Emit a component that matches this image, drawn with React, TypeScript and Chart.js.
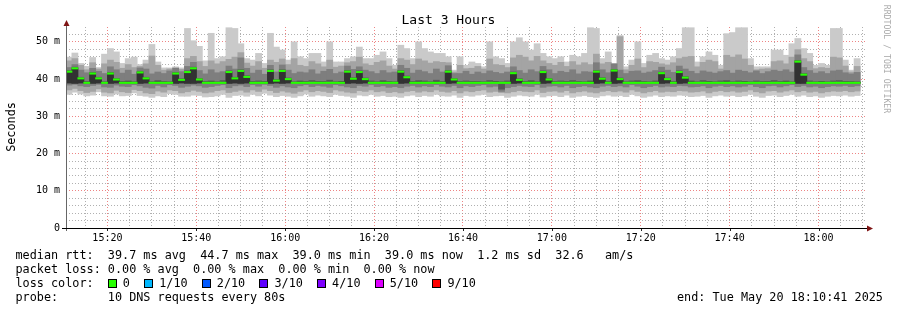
import React, { useEffect, useRef } from "react";
import { Chart, registerables } from "chart.js";

Chart.register(...registerables);

const MONO = "'DejaVu Sans Mono', monospace";

// graph window
const START_CLOCK = [15, 10, 41]; // hh, mm, ss
const WINDOW_MINUTES = 180;
const STEP_SECONDS = 80;
const Y_MAX = 54;

const xTickLabels = ["15:20", "15:40", "16:00", "16:20", "16:40", "17:00", "17:20", "17:40", "18:00"];
const yTickLabels = ["0", "10 m", "20 m", "30 m", "40 m", "50 m"];

// median RTT per 80 s step (ms)
const median = [
  42.0, 42.9, 40.2, 39.0, 41.5, 40.2, 39.0, 41.5, 39.9, 39.0,
  39.0, 39.0, 41.8, 40.2, 39.0, 39.0, 39.0, 39.0, 41.5, 39.8,
  41.9, 42.9, 39.9, 39.0, 39.0, 39.0, 39.0, 41.9, 40.2, 42.2,
  40.6, 39.0, 39.0, 39.0, 42.2, 39.6, 42.2, 40.0, 39.0, 39.0,
  39.0, 39.0, 39.0, 39.0, 39.0, 39.0, 39.0, 42.0, 40.1, 41.9,
  40.0, 39.0, 39.0, 39.0, 39.0, 39.0, 42.0, 40.5, 39.0, 39.0,
  39.0, 39.0, 39.0, 39.0, 42.0, 39.9, 39.0, 39.0, 39.0, 39.0,
  39.0, 39.0, 39.0, 39.0, 39.0, 41.6, 39.8, 39.0, 39.0, 39.0,
  41.9, 39.9, 39.0, 39.0, 39.0, 39.0, 39.0, 39.0, 39.0, 42.0,
  40.1, 39.0, 42.3, 40.0, 39.0, 39.0, 39.0, 39.0, 39.0, 39.0,
  41.6, 40.0, 39.0, 41.9, 40.4, 39.0, 39.0, 39.0, 39.0, 39.0,
  39.0, 39.0, 39.0, 39.0, 39.0, 39.0, 39.0, 39.0, 39.0, 39.0,
  39.0, 39.0, 39.0, 44.7, 41.2, 39.0, 39.0, 39.0, 39.0, 39.0,
  39.0, 39.0, 39.0, 39.0,
];

// sorted RTTs of the 10 probes per step (rtt1 = fastest ... rtt10 = slowest), ms
const rtt1 = [
  35.8, 36.4, 35.9, 35.4, 35.6, 36.5, 35.4, 35.3, 35.9, 35.4,
  35.5, 36.2, 35.5, 35.3, 35.0, 35.4, 35.2, 36.0, 35.8, 35.3,
  35.3, 35.6, 35.5, 35.1, 35.2, 35.4, 35.8, 35.0, 35.5, 35.6,
  35.3, 35.8, 35.4, 36.1, 35.6, 35.2, 35.5, 35.3, 35.0, 35.4,
  35.9, 35.3, 35.6, 35.4, 35.2, 35.8, 35.5, 35.3, 35.0, 35.6,
  35.4, 35.8, 35.3, 35.5, 35.2, 35.3, 35.0, 35.4, 35.6, 35.2,
  35.5, 35.3, 35.8, 35.4, 35.3, 35.6, 35.0, 35.5, 35.3, 35.6,
  35.8, 35.2, 35.4, 35.5, 35.0, 35.3, 35.6, 35.4, 35.3, 35.8,
  35.1, 35.4, 35.5, 35.2, 35.6, 35.0, 35.3, 35.5, 35.2, 35.0,
  35.4, 35.6, 35.3, 35.5, 35.2, 35.8, 35.4, 35.0, 35.3, 35.6,
  35.2, 35.4, 35.3, 35.6, 35.5, 35.2, 35.3, 35.5, 35.0, 35.4,
  35.6, 35.3, 35.5, 35.2, 35.4, 35.8, 35.3, 35.0, 35.5, 35.6,
  35.2, 35.5, 35.8, 35.3, 35.6, 35.2, 35.4, 35.0, 35.3, 35.5,
  35.4, 35.6, 35.3, 35.5,
];
const rtt2 = [
  37.0, 37.4, 36.8, 36.3, 36.6, 37.3, 36.4, 36.2, 36.9, 36.5,
  36.3, 37.1, 36.8, 36.2, 36.0, 36.7, 36.4, 37.0, 36.8, 36.2,
  36.5, 36.9, 36.6, 36.2, 36.4, 36.8, 37.0, 36.3, 36.6, 36.9,
  36.4, 37.0, 36.6, 37.2, 36.8, 36.3, 36.7, 36.4, 36.1, 36.6,
  37.0, 36.5, 36.8, 36.6, 36.3, 37.0, 36.7, 36.4, 36.2, 36.8,
  36.6, 37.0, 36.5, 36.7, 36.3, 36.5, 36.2, 36.6, 36.8, 36.4,
  36.7, 36.5, 37.0, 36.6, 36.4, 36.8, 36.2, 36.7, 36.5, 36.8,
  37.0, 36.4, 36.6, 36.3, 36.2, 36.5, 36.8, 36.6, 36.5, 37.0,
  36.3, 36.6, 36.7, 36.4, 36.8, 36.2, 36.5, 36.7, 36.4, 36.2,
  36.6, 36.8, 36.5, 36.7, 36.4, 37.0, 36.6, 36.2, 36.5, 36.8,
  36.4, 36.6, 36.5, 36.8, 36.7, 36.4, 36.5, 36.7, 36.2, 36.6,
  36.8, 36.5, 36.7, 36.4, 36.6, 37.0, 36.5, 36.2, 36.7, 36.8,
  36.4, 36.7, 37.0, 36.5, 36.8, 36.4, 36.6, 36.2, 36.5, 36.7,
  36.6, 36.8, 36.5, 36.7,
];
const rtt3 = [
  38.3, 38.5, 38.1, 37.9, 38.2, 38.5, 37.8, 37.7, 38.3, 38.0,
  37.9, 38.4, 38.1, 37.7, 37.5, 38.2, 37.8, 38.4, 38.2, 37.7,
  38.0, 38.3, 38.1, 37.7, 37.9, 38.2, 38.4, 37.6, 38.1, 38.3,
  37.9, 38.4, 38.0, 38.5, 38.2, 37.7, 38.1, 37.8, 37.6, 38.1,
  38.4, 37.9, 38.2, 38.0, 37.7, 38.4, 38.1, 37.8, 37.6, 38.2,
  38.0, 38.4, 37.9, 38.1, 37.7, 37.9, 37.6, 38.0, 38.2, 37.8,
  38.1, 37.9, 38.4, 38.0, 37.8, 38.2, 37.6, 38.1, 37.9, 38.2,
  38.4, 37.8, 38.0, 36.6, 37.6, 37.9, 38.2, 38.0, 37.9, 38.4,
  37.7, 38.0, 38.1, 37.8, 38.2, 37.6, 37.9, 38.1, 37.8, 37.6,
  38.0, 38.2, 37.9, 38.1, 37.8, 38.4, 38.0, 37.6, 37.9, 38.2,
  37.8, 38.0, 37.9, 38.2, 38.1, 37.8, 37.9, 38.1, 37.6, 38.0,
  38.2, 37.9, 38.1, 37.8, 38.0, 38.4, 37.9, 37.6, 38.1, 38.2,
  37.8, 38.1, 38.4, 37.9, 38.2, 37.8, 38.0, 37.6, 37.9, 38.1,
  38.0, 38.2, 37.9, 38.1,
];
const rtt4 = [
  38.8, 38.7, 38.8, 38.8, 38.7, 38.8, 38.9, 38.7, 38.8, 38.8,
  38.8, 38.9, 38.7, 38.8, 38.8, 38.8, 38.9, 38.8, 38.7, 38.8,
  38.7, 38.7, 38.8, 38.9, 38.8, 38.8, 38.9, 38.7, 38.8, 38.7,
  38.8, 38.9, 38.8, 38.8, 38.7, 38.8, 38.7, 38.8, 38.9, 38.8,
  38.8, 38.9, 38.8, 38.8, 38.7, 38.8, 38.8, 38.7, 38.8, 38.7,
  38.8, 38.9, 38.8, 38.8, 38.8, 38.9, 38.7, 38.8, 38.8, 38.8,
  38.9, 38.8, 38.8, 38.8, 38.7, 38.8, 38.8, 38.9, 38.8, 38.8,
  38.8, 38.8, 38.9, 37.2, 38.8, 38.7, 38.8, 38.8, 38.9, 38.8,
  38.7, 38.8, 38.8, 38.8, 38.9, 38.8, 38.8, 38.8, 38.9, 38.7,
  38.8, 38.8, 38.7, 38.8, 38.8, 38.9, 38.8, 38.8, 38.8, 38.9,
  38.7, 38.8, 38.8, 38.7, 38.8, 38.8, 38.9, 38.8, 38.8, 38.8,
  38.8, 38.9, 38.8, 38.8, 38.8, 38.8, 38.9, 38.8, 38.8, 38.8,
  38.8, 38.9, 38.8, 38.7, 38.7, 38.8, 38.8, 38.9, 38.8, 38.8,
  38.8, 38.9, 38.8, 38.8,
];
const rtt5 = [
  38.9, 38.8, 38.9, 38.9, 38.8, 38.9, 38.9, 38.8, 38.9, 38.9,
  38.9, 38.9, 38.8, 38.9, 38.9, 38.9, 38.9, 38.9, 38.8, 38.9,
  38.8, 38.8, 38.9, 38.9, 38.9, 38.9, 38.9, 38.8, 38.9, 38.8,
  38.9, 38.9, 38.9, 38.9, 38.8, 38.9, 38.8, 38.9, 38.9, 38.9,
  38.9, 38.9, 38.9, 38.9, 38.9, 38.9, 38.9, 38.8, 38.9, 38.8,
  38.9, 38.9, 38.9, 38.9, 38.9, 38.9, 38.8, 38.9, 38.9, 38.9,
  38.9, 38.9, 38.9, 38.9, 38.8, 38.9, 38.9, 38.9, 38.9, 38.9,
  38.9, 38.9, 38.9, 38.9, 38.9, 38.8, 38.9, 38.9, 38.9, 38.9,
  38.8, 38.9, 38.9, 38.9, 38.9, 38.9, 38.9, 38.9, 38.9, 38.8,
  38.9, 38.9, 38.8, 38.9, 38.9, 38.9, 38.9, 38.9, 38.9, 38.9,
  38.8, 38.9, 38.9, 38.8, 38.9, 38.9, 38.9, 38.9, 38.9, 38.9,
  38.9, 38.9, 38.9, 38.9, 38.9, 38.9, 38.9, 38.9, 38.9, 38.9,
  38.9, 38.9, 38.9, 38.8, 38.8, 38.9, 38.9, 38.9, 38.9, 38.9,
  38.9, 38.9, 38.9, 38.9,
];
const rtt6 = [
  42.0, 42.9, 40.2, 39.2, 41.5, 40.2, 39.1, 41.5, 39.9, 39.2,
  39.3, 39.1, 41.8, 40.2, 39.2, 39.3, 39.1, 39.2, 41.5, 39.8,
  41.9, 42.9, 39.9, 39.2, 39.3, 39.1, 39.2, 41.9, 40.2, 42.2,
  40.6, 39.2, 39.1, 39.3, 42.2, 39.6, 42.2, 40.0, 39.2, 39.3,
  39.1, 39.2, 39.3, 39.2, 39.1, 39.2, 39.3, 42.0, 40.1, 41.9,
  40.0, 39.2, 39.1, 39.3, 39.2, 39.1, 42.0, 40.5, 39.2, 39.3,
  39.2, 39.1, 39.3, 39.2, 42.0, 39.9, 39.2, 39.1, 39.3, 39.2,
  39.1, 39.2, 39.3, 39.2, 39.1, 41.6, 39.8, 39.2, 39.3, 39.1,
  41.9, 39.9, 39.2, 39.1, 39.3, 39.2, 39.1, 39.2, 39.3, 42.0,
  40.1, 39.2, 42.3, 40.0, 39.2, 39.1, 39.3, 39.2, 39.1, 39.2,
  41.6, 40.0, 39.2, 41.9, 40.4, 39.3, 39.1, 39.2, 39.3, 39.1,
  39.2, 39.3, 39.1, 39.2, 39.3, 39.2, 39.1, 39.2, 39.3, 39.1,
  39.2, 39.3, 39.1, 44.7, 41.2, 39.2, 39.1, 39.3, 39.2, 39.1,
  39.2, 39.3, 39.1, 39.2,
];
const rtt7 = [
  42.4, 43.3, 40.6, 39.5, 41.9, 40.6, 39.4, 41.9, 40.3, 39.5,
  39.6, 39.4, 42.2, 40.6, 39.4, 39.7, 39.5, 39.4, 41.9, 40.2,
  42.3, 43.3, 40.3, 39.5, 39.6, 39.4, 39.7, 42.3, 40.6, 42.6,
  41.0, 39.5, 39.6, 39.4, 42.6, 40.0, 42.6, 40.4, 39.4, 39.6,
  39.5, 39.7, 39.4, 39.5, 39.8, 39.4, 39.5, 42.4, 40.5, 42.3,
  40.4, 39.6, 39.4, 39.7, 39.5, 39.4, 42.4, 40.9, 39.5, 39.7,
  39.6, 39.4, 39.8, 39.5, 42.4, 40.3, 39.5, 39.6, 39.4, 39.5,
  39.4, 39.7, 39.5, 39.4, 39.6, 42.0, 40.2, 39.5, 39.7, 39.4,
  42.3, 40.3, 39.5, 39.6, 39.4, 39.7, 39.5, 39.4, 39.6, 42.4,
  40.5, 39.5, 42.7, 40.4, 39.4, 39.6, 39.7, 39.5, 39.4, 39.6,
  42.0, 40.4, 39.5, 42.3, 40.8, 39.6, 39.4, 39.7, 39.5, 39.4,
  39.6, 39.7, 39.4, 39.6, 39.5, 39.4, 39.6, 39.5, 39.4, 39.7,
  39.5, 39.6, 39.4, 45.1, 41.6, 39.6, 39.4, 39.5, 39.4, 39.6,
  39.7, 39.4, 39.5, 39.4,
];
const rtt8 = [
  43.2, 44.0, 42.5, 41.8, 43.0, 42.2, 41.6, 43.4, 42.6, 41.7,
  42.5, 41.4, 43.1, 42.8, 41.5, 42.0, 41.6, 42.3, 43.0, 42.1,
  43.5, 44.6, 42.4, 41.5, 42.6, 41.8, 42.1, 43.6, 42.8, 45.8,
  43.0, 41.7, 42.5, 41.4, 43.8, 42.0, 43.9, 42.5, 41.6, 42.0,
  41.8, 42.6, 41.5, 42.2, 42.7, 41.6, 42.0, 43.6, 42.7, 43.4,
  42.5, 42.1, 41.6, 42.4, 41.8, 42.0, 43.8, 43.0, 41.7, 42.5,
  42.1, 41.6, 42.8, 42.0, 43.7, 41.6, 41.6, 42.2, 41.4, 42.0,
  41.6, 42.3, 41.9, 41.6, 42.0, 43.4, 42.4, 41.7, 42.6, 42.1,
  43.5, 42.6, 41.6, 42.2, 41.9, 42.6, 41.5, 42.1, 42.0, 44.5,
  42.6, 41.8, 44.2, 42.5, 41.6, 42.2, 42.3, 41.7, 42.0, 42.4,
  43.3, 42.5, 41.9, 43.6, 42.8, 42.2, 41.6, 42.3, 42.0, 41.7,
  42.1, 42.4, 41.7, 42.5, 42.2, 41.8, 42.3, 41.6, 42.1, 42.5,
  42.2, 42.6, 42.0, 46.6, 43.2, 42.4, 41.7, 42.1, 41.6, 42.3,
  42.5, 41.8, 41.5, 41.9,
];
const rtt9 = [
  45.0, 45.6, 43.8, 42.6, 44.5, 42.8, 44.2, 45.2, 44.6, 43.0,
  44.0, 43.2, 43.5, 44.2, 46.3, 43.8, 42.5, 42.8, 43.1, 42.7,
  45.6, 46.2, 44.8, 43.5, 45.0, 44.2, 44.8, 45.4, 46.0, 47.2,
  44.4, 43.6, 44.8, 43.0, 45.2, 44.6, 45.5, 44.0, 45.6, 43.8,
  43.5, 44.8, 44.2, 43.4, 45.2, 43.3, 43.6, 44.5, 44.8, 46.0,
  44.2, 43.8, 44.6, 45.0, 43.6, 42.8, 45.6, 45.2, 44.0, 45.5,
  45.0, 44.4, 44.8, 44.6, 44.5, 42.0, 43.8, 42.9, 43.0, 43.5,
  42.8, 45.5, 44.0, 43.8, 43.2, 45.8, 46.5, 46.0, 45.0, 46.2,
  45.0, 44.3, 43.8, 44.6, 43.5, 44.8, 43.9, 44.5, 44.0, 46.8,
  44.2, 44.6, 43.6, 51.5, 42.6, 43.8, 45.5, 43.2, 44.8, 44.6,
  44.2, 43.9, 44.5, 45.6, 46.0, 46.2, 43.4, 44.6, 45.2, 44.8,
  42.8, 46.5, 46.0, 46.6, 45.5, 43.8, 42.6, 42.8, 42.9, 44.8,
  45.0, 44.2, 46.0, 48.0, 45.6, 44.8, 42.9, 43.2, 43.0, 46.0,
  45.8, 43.6, 42.0, 43.5,
];
const rtt10 = [
  46.0, 47.1, 44.3, 43.5, 45.9, 43.2, 46.8, 48.3, 47.4, 44.3,
  45.6, 46.0, 44.0, 45.2, 49.4, 44.7, 43.1, 43.1, 43.4, 43.1,
  53.7, 50.4, 48.9, 45.0, 52.4, 45.6, 46.1, 53.9, 53.7, 49.6,
  45.6, 45.2, 47.0, 44.3, 52.4, 48.7, 47.9, 45.2, 50.1, 46.1,
  45.6, 47.0, 47.0, 44.7, 50.1, 44.7, 44.7, 45.6, 46.1, 48.7,
  45.6, 45.6, 46.5, 47.4, 45.6, 43.8, 49.2, 48.3, 45.6, 50.1,
  48.3, 47.4, 47.0, 47.0, 46.1, 42.5, 46.1, 43.8, 44.7, 44.3,
  43.4, 50.1, 46.1, 45.6, 44.3, 50.1, 51.2, 50.1, 47.9, 49.6,
  47.0, 46.1, 45.6, 46.1, 44.7, 46.5, 46.1, 47.0, 53.9, 53.7,
  45.6, 47.4, 44.3, 51.8, 43.4, 45.2, 50.1, 44.3, 46.5, 47.0,
  45.6, 45.2, 46.1, 48.3, 53.9, 53.9, 44.7, 46.1, 47.4, 46.5,
  43.8, 52.3, 52.6, 53.9, 53.9, 45.6, 43.4, 43.4, 43.4, 47.9,
  47.9, 46.5, 49.6, 51.0, 48.3, 47.0, 43.8, 44.3, 43.8, 53.7,
  53.7, 45.2, 42.5, 45.6,
];

const lossLabels = ["0", "1/10", "2/10", "3/10", "4/10", "5/10", "9/10"];
const lossColors = ["#26ff00", "#00b8ff", "#0059ff", "#5e00ff", "#7e00ff", "#dd00ff", "#ff0000"];

const statsLine = "median rtt:  39.7 ms avg  44.7 ms max  39.0 ms min  39.0 ms now  1.2 ms sd  32.6   am/s";
const lossLine = "packet loss: 0.00 % avg  0.00 % max  0.00 % min  0.00 % now";
const probeLine = "probe:       10 DNS requests every 80s";
const endLine = "end: Tue May 20 18:10:41 2025";

// styles
const SMOKE_COLORS = ["#cacaca", "#a4a4a4", "#7e7e7e", "#585858", "#323232"];
const MEDIAN_HALF = 0.28;
const MINOR_GRID = "rgba(150,150,150,0.75)";
const MAJOR_GRID = "rgba(235,110,110,0.85)";

const startSec = START_CLOCK[0] * 3600 + START_CLOCK[1] * 60 + START_CLOCK[2];
const stepMinutes = STEP_SECONDS / 60;

function clockLabel(v: number) {
  const t = Math.round(startSec + v * 60);
  const h = Math.floor(t / 3600) % 24;
  const m = Math.floor(t / 60) % 60;
  return { m, text: `${h}:${String(m).padStart(2, "0")}` };
}
const gridMinutes: number[] = [];
for (let t = Math.ceil(startSec / 300) * 300; t <= startSec + WINDOW_MINUTES * 60; t += 300) {
  gridMinutes.push((t - startSec) / 60);
}
const isMajorX = (v: number) => clockLabel(v).m % 20 === 0;
const yGrid: number[] = [];
for (let v = 0; v < Y_MAX - 1; v += 2) yGrid.push(v);

const rrdAxes = {
  id: "rrdAxes",
  afterDraw(chart: any) {
    const { ctx, chartArea: a } = chart;
    const xs = chart.scales.x;
    ctx.save();
    ctx.lineWidth = 1;
    ctx.strokeStyle = "#222";
    for (const v of gridMinutes) {
      if (!isMajorX(v)) continue;
      const px = Math.round(xs.getPixelForValue(v)) + 0.5;
      ctx.beginPath();
      ctx.moveTo(px, a.bottom);
      ctx.lineTo(px, a.bottom + 3);
      ctx.stroke();
    }
    ctx.strokeStyle = "#666";
    ctx.beginPath();
    ctx.moveTo(a.left + 0.5, a.bottom + 3);
    ctx.lineTo(a.left + 0.5, a.top - 3);
    ctx.stroke();
    ctx.strokeStyle = "#000";
    ctx.beginPath();
    ctx.moveTo(a.left - 4, a.bottom + 0.5);
    ctx.lineTo(a.right + 2, a.bottom + 0.5);
    ctx.stroke();
    ctx.fillStyle = "#7f1515";
    ctx.beginPath();
    ctx.moveTo(a.left + 0.5, a.top - 7);
    ctx.lineTo(a.left - 2.5, a.top - 1);
    ctx.lineTo(a.left + 3.5, a.top - 1);
    ctx.closePath();
    ctx.fill();
    ctx.beginPath();
    ctx.moveTo(a.right + 7, a.bottom + 0.5);
    ctx.lineTo(a.right + 1, a.bottom - 2.5);
    ctx.lineTo(a.right + 1, a.bottom + 3.5);
    ctx.closePath();
    ctx.fill();
    ctx.restore();
  },
};

export default function App() {
  const ref = useRef<HTMLCanvasElement | null>(null);

  useEffect(() => {
    if (!ref.current) return;
    Chart.defaults.font.family = MONO;
    const xAt = (k: number) => (k + 0.5) * stepMinutes;
    const lows = [rtt1, rtt2, rtt3, rtt4, rtt5];
    const highs = [rtt10, rtt9, rtt8, rtt7, rtt6];
    const smoke = lows.map((lo, i) => ({
      label: `smoke${i + 1}`,
      data: lo.map((v, k) => ({ x: xAt(k), y: [v, highs[i][k]] })),
      backgroundColor: SMOKE_COLORS[i],
    }));
    const medianDs = {
      label: "median",
      data: median.map((m, k) => ({ x: xAt(k), y: [m - MEDIAN_HALF, m + MEDIAN_HALF] })),
      backgroundColor: lossColors[0],
    };
    const datasets = [medianDs, ...smoke.slice().reverse()];

    const chart = new Chart(ref.current, {
      type: "bar",
      data: { datasets } as any,
      options: {
        animation: false,
        responsive: false,
        maintainAspectRatio: false,
        devicePixelRatio: 1,
        events: [],
        layout: { padding: { left: 0, right: 31, top: 27, bottom: 0 } },
        plugins: { legend: { display: false }, title: { display: false }, tooltip: { enabled: false } },
        datasets: {
          bar: {
            grouped: false,
            barPercentage: 1.14,
            categoryPercentage: 1,
            borderWidth: 0,
            inflateAmount: 0,
          },
        } as any,
        scales: {
          x: {
            type: "linear",
            min: 0,
            max: WINDOW_MINUTES,
            offset: false,
            z: 1,
            afterBuildTicks: (s: any) => {
              s.ticks = gridMinutes.map((v) => ({ value: v }));
            },
            afterFit: (s: any) => {
              s.height = 82;
            },
            ticks: {
              autoSkip: false,
              maxRotation: 0,
              padding: 4,
              color: "#000",
              font: { family: MONO, size: 10 },
              callback: (v: any) => {
                const c = clockLabel(Number(v));
                return c.m % 20 === 0 && xTickLabels.includes(c.text) ? c.text : "";
              },
            },
            grid: {
              offset: false,
              drawTicks: false,
              lineWidth: 1,
              color: (ctx: any) => (ctx.tick && isMajorX(ctx.tick.value) ? MAJOR_GRID : MINOR_GRID),
            },
            border: { display: false, dash: [1, 2] },
          } as any,
          y: {
            type: "linear",
            min: 0,
            max: Y_MAX,
            z: 1,
            afterBuildTicks: (s: any) => {
              s.ticks = yGrid.map((v) => ({ value: v }));
            },
            afterFit: (s: any) => {
              s.width = 66;
            },
            ticks: {
              autoSkip: false,
              padding: 6,
              color: "#000",
              font: { family: MONO, size: 10 },
              callback: (v: any) => {
                const n = Number(v);
                return n % 10 === 0 ? yTickLabels[n / 10] ?? "" : "";
              },
            },
            grid: {
              drawTicks: false,
              lineWidth: 1,
              color: (ctx: any) => (ctx.tick && ctx.tick.value % 10 === 0 ? MAJOR_GRID : MINOR_GRID),
            },
            border: { display: false, dash: [1, 2] },
          } as any,
        },
      },
      plugins: [rrdAxes],
    });
    return () => chart.destroy();
  }, []);

  const text: React.CSSProperties = {
    position: "absolute",
    fontFamily: MONO,
    whiteSpace: "pre",
    color: "#000",
  };

  return (
    <div style={{ position: "absolute", left: 0, top: 0, width: 897, height: 310, background: "#fff", overflow: "hidden" }}>
      <canvas ref={ref} width={897} height={310} style={{ position: "absolute", left: 0, top: 0, width: 897, height: 310 }} />
      <div style={{ ...text, left: 0, width: 897, top: 13, textAlign: "center", fontSize: 13, lineHeight: "14px" }}>Last 3 Hours</div>
      <div
        style={{
          ...text,
          left: -39,
          top: 120,
          width: 100,
          height: 14,
          textAlign: "center",
          fontSize: 11.8,
          lineHeight: "14px",
          transform: "rotate(-90deg)",
        }}
      >
        Seconds
      </div>
      <div
        style={{
          ...text,
          left: 827,
          top: 53,
          width: 120,
          height: 12,
          textAlign: "center",
          fontSize: 8.2,
          lineHeight: "12px",
          color: "#ababab",
          transform: "rotate(90deg)",
        }}
      >
        RRDTOOL / TOBI OETIKER
      </div>
      <div style={{ ...text, left: 15.5, top: 248, fontSize: 11.8, lineHeight: "14px" }}>
        <div>{statsLine}</div>
        <div>{lossLine}</div>
        <div>
          {"loss color:  "}
          {lossLabels.map((l, i) => (
            <React.Fragment key={l}>
              <span style={{ display: "inline-block", width: 15, height: 14, position: "relative", verticalAlign: "top" }}>
                <span
                  style={{
                    position: "absolute",
                    left: 0,
                    top: 3,
                    width: 7,
                    height: 7,
                    border: "1px solid #000",
                    background: lossColors[i],
                  }}
                />
              </span>
              {l}
              {i < lossLabels.length - 1 ? "  " : ""}
            </React.Fragment>
          ))}
        </div>
        <div>{probeLine}</div>
      </div>
      <div style={{ ...text, left: 677, top: 290, fontSize: 11.8, lineHeight: "14px" }}>{endLine}</div>
    </div>
  );
}
